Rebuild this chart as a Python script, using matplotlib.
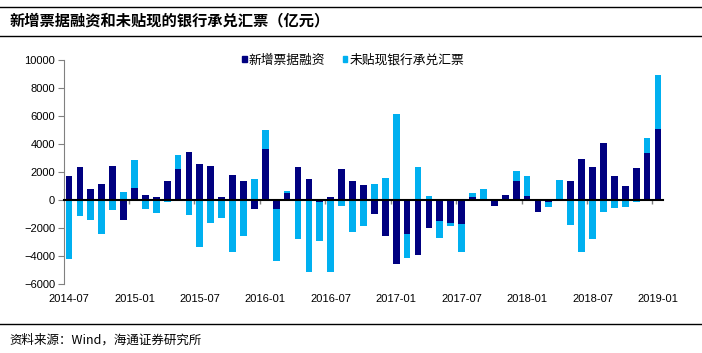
import numpy as np
import matplotlib
matplotlib.use("Agg")
import matplotlib.pyplot as plt
from matplotlib.patches import Patch
import matplotlib.transforms as mtransforms

plt.rcParams['font.family'] = ['Liberation Sans', 'Noto Sans CJK SC', 'DejaVu Sans']

# 月份标签（每6个月一个）
tick_labels = ["2014-07", "2015-01", "2015-07", "2016-01", "2016-07",
               "2017-01", "2017-07", "2018-01", "2018-07", "2019-01"]

# 新增票据融资（亿元），2014-07 到 2019-01
bill_financing = [1700, 2330, 810, 1140, 2400, -1430, 880, 360, 240, 1330,
                  2190, 3430, 2550, 2430, 240, 1790, 1380, -640, 3670, -620,
                  470, 2360, 1520, -170, 240, 2190, 1380, 1050, -1020, -2570,
                  -4570, -2430, -3950, -2020, -1500, -1640, -1710, 240, 0, -400,
                  330, 1380, 280, -830, -170, 0, 1380, 2900, 2360, 4070,
                  1740, 1020, 2310, 3380, 5100]

# 未贴现银行承兑汇票（亿元）
undiscounted = [-4200, -1150, -1430, -2450, -710, 570, 1950, -620, -930, -120,
                1000, -1050, -3380, -1620, -1310, -3740, -2570, 1500, 1330, -3710,
                170, -2810, -5120, -2730, -5170, -400, -2260, -1850, 1120, 1550,
                6120, -1740, 2360, 260, -1240, -220, -2030, 280, 760, 0,
                0, 690, 1460, 0, -310, 1430, -1790, -3710, -2790, -830,
                -600, -480, -170, 1050, 3850]

dark = np.array(bill_financing, dtype=float)
light = np.array(undiscounted, dtype=float)
x = np.arange(len(dark))

# Excel式堆积：正值向上叠，负值向下叠
light_bottom = np.where(light >= 0, np.maximum(dark, 0), np.minimum(dark, 0))

fig = plt.figure(figsize=(7.02, 3.53), dpi=100)
ax = fig.add_axes([0.0905, 0.1955, 0.8545, 0.6345])

c_dark = "#000080"
c_light = "#00B0F0"
w = 0.62
ax.bar(x, dark, width=w, color=c_dark, zorder=2)
ax.bar(x, light, width=w, bottom=light_bottom, color=c_light, zorder=2)

ax.set_xlim(-0.5, len(dark) - 0.5)
ax.set_ylim(-6000, 10000)
ax.set_yticks(np.arange(-6000, 10001, 2000))
ax.tick_params(axis='y', direction='out', length=4, color='#808080',
               labelsize=8, pad=2)

for s in ['top', 'right']:
    ax.spines[s].set_visible(False)
ax.spines['left'].set_color('#808080')
ax.spines['bottom'].set_position(('data', 0))
ax.spines['bottom'].set_color('black')
ax.spines['bottom'].set_linewidth(1.5)
ax.spines['bottom'].set_zorder(3)

ax.set_xticks(np.arange(5.5, len(dark) - 1, 6))
ax.set_xticklabels([])
ax.tick_params(axis='x', direction='out', length=3, color='#808080', width=1)

trans = mtransforms.blended_transform_factory(ax.transData, ax.transAxes)
for i, lab in enumerate(tick_labels):
    ax.text(i * 6, -0.065, lab, transform=trans, ha='center', va='center',
            fontsize=8)

handles = [Patch(color=c_dark, label="新增票据融资"),
           Patch(color=c_light, label="未贴现银行承兑汇票")]
fig.legend(handles=handles, loc='center', bbox_to_anchor=(0.503, 0.83),
           ncol=2, frameon=False, handlelength=0.35,
           handleheight=0.35, handletextpad=0.15, columnspacing=1.4,
           prop={'family': ['Noto Sans CJK SC'], 'size': 9.2})

# 标题与来源
fig.add_artist(plt.Line2D([0.0, 1.0], [1 - 7 / 353, 1 - 7 / 353],
                          color='black', lw=1, transform=fig.transFigure))
fig.add_artist(plt.Line2D([0.0, 1.0], [1 - 36 / 353, 1 - 36 / 353],
                          color='black', lw=1, transform=fig.transFigure))
fig.add_artist(plt.Line2D([0.0, 1.0], [1 - 324 / 353, 1 - 324 / 353],
                          color='black', lw=1, transform=fig.transFigure))
fig.text(0.014, 1 - 20 / 353, "新增票据融资和未贴现的银行承兑汇票（亿元）",
         fontsize=11, fontweight='bold', family=['Noto Sans CJK SC'],
         ha='left', va='center')
fig.text(0.014, 1 - 340 / 353, "资料来源：Wind，海通证券研究所",
         fontsize=9, family=['Noto Sans CJK SC', 'Liberation Sans'],
         ha='left', va='center')

fig.savefig("out.png", dpi=100)
